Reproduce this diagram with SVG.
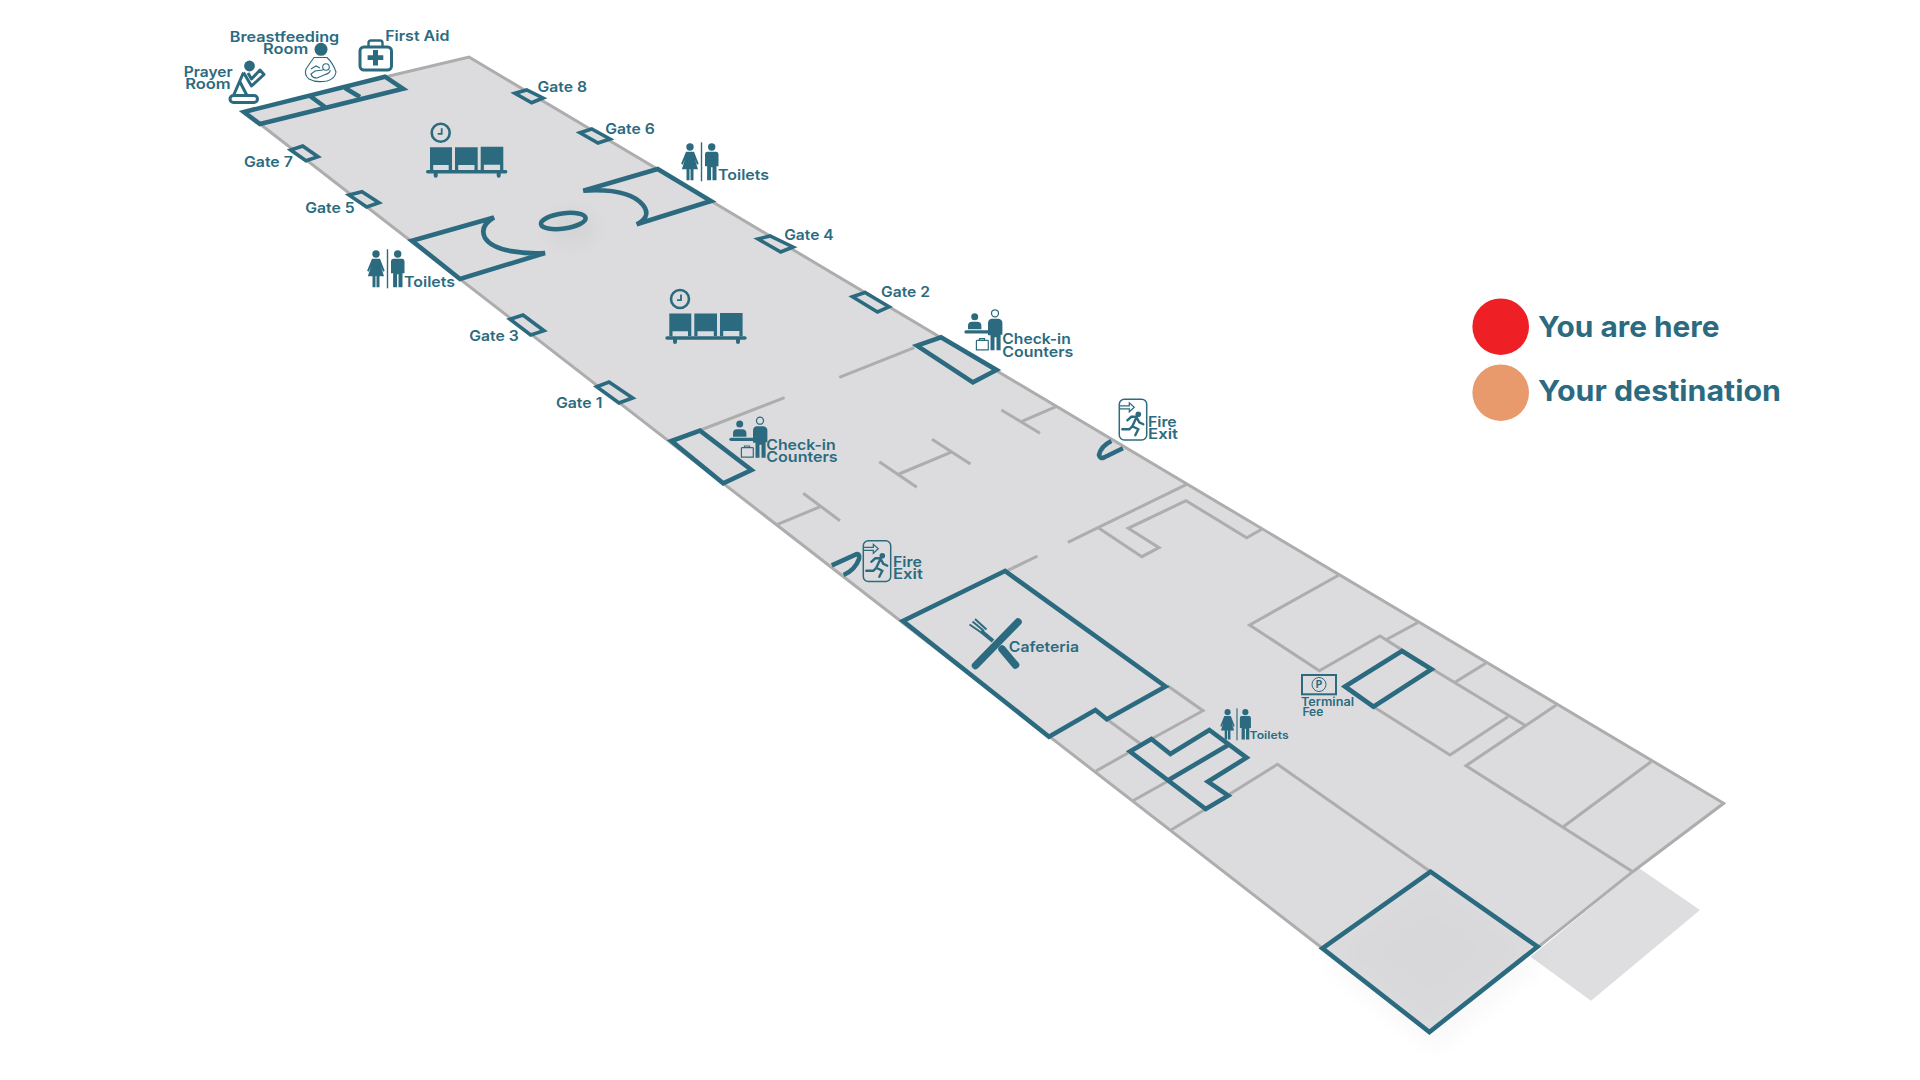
<svg xmlns="http://www.w3.org/2000/svg" xmlns:xlink="http://www.w3.org/1999/xlink" width="1920" height="1080" viewBox="0 0 1920 1080">
<style>
.w{fill:none;stroke:#adadad;stroke-width:3;stroke-linejoin:miter}
.r{fill:none;stroke:#2c6b7f;stroke-width:4.6;stroke-linejoin:miter;stroke-miterlimit:12}
.c{stroke-miterlimit:3}
.g{fill:#dcdcdf;stroke:#2c6b7f;stroke-width:3.6;stroke-miterlimit:3}
.i{fill:#2c6b7f}
.o{fill:none;stroke:#2c6b7f}
.t{font-family:"Inter","Open Sans","Liberation Sans",sans-serif;font-weight:600;fill:#2c6b7f;font-size:14.5px}
.l{font-weight:700;font-size:29px}
.s{font-size:11.5px}
</style>
<defs>
<filter id="b" x="-50%" y="-50%" width="200%" height="200%"><feGaussianBlur stdDeviation="11"/></filter>
<g id="wait">
<circle class="o" stroke-width="2.6" cx="0" cy="0" r="9"/>
<path class="o" stroke-width="1.8" d="M1,-4.5V1.2H-3"/>
<path class="i" d="M-10.7,14.6H11.3V37.3H8V32.3H-7.5V37.3H-10.7ZM14.3,14.6H37V37.3H33.8V32.3H17.5V37.3H14.3ZM40,14H62.6V37.3H59.4V32H43.2V37.3H40Z"/>
<path class="i" d="M-13,37.3H65a1.7,1.7 0 0 1 0,3.4H60V43a2,2 0 0 1 -4,0V40.7H-3V43a2,2 0 0 1 -4,0V40.7H-13a1.7,1.7 0 0 1 0,-3.4Z"/>
</g>
<g id="wc">
<circle class="i" cx="-11.5" cy="4.7" r="3.7"/>
<path class="i" d="M-15.5,9.5H-7.5L-2.8,21.5L-4.4,22.5L-6.5,17.5L-3.5,27H-8V38H-11V27H-12V38H-15V27H-19.6L-16.7,17.5L-18.8,22.5L-20.4,21.5Z"/>
<rect class="i" x="-.7" y="0" width="1.4" height="39"/>
<circle class="i" cx="10.2" cy="4.7" r="3.7"/>
<path class="i" d="M5.6,9.5H14.8Q17,9.5 17,12V24H15V38H11V25H9.6V38H5.6V24H3.5V12Q3.5,9.5 5.6,9.5Z"/>
</g>
<g id="chk">
<circle class="o" stroke-width="1.3" cx="0" cy="0" r="3.5"/>
<path class="i" d="M-3.5,5.5H3.5Q7.4,6 7.4,10V21.5H5.6V37H1.5V24H-.5V37H-4.5V22H-7V10Q-7,6 -3.5,5.5Z"/>
<circle class="i" cx="-20.3" cy="3.4" r="3.5"/>
<path class="i" d="M-27,16V12.5Q-27,8.5 -23,8.5H-18Q-13.6,8.5 -13.6,12.5V16Z"/>
<path class="i" d="M-29,17H-7V20.3H-29a1.6,1.6 0 0 1 0,-3.3Z"/>
<path class="o" stroke-width="1.2" d="M-18,27H-7.5a.8,.8 0 0 1 .8,.8V36.5H-18.6V27.8a.8,.8 0 0 1 .6,-.8ZM-15.5,27V25.3H-10.5V27"/>
</g>
<g id="fire">
<path class="o" stroke-width="1.5" d="M0,5a5,5 0 0 1 5,-5H22.4a5,5 0 0 1 5,5V35.7a5,5 0 0 1 -5,5H5a5,5 0 0 1 -5,-5Z"/>
<path class="o" stroke-width="1.2" d="M0,6.5H10V3.5L15,8L10,12.5V9.5H0"/>
<circle class="i" cx="19" cy="15" r="2.8"/>
<path class="o" stroke-width="2.4" stroke-linecap="round" d="M17,18.5L13,27M8,21L12,17.5H17L20,23L24,25M13,27L19,30L16,36M13,27L10,30H3"/>
</g>
</defs>
<rect width="1920" height="1080" fill="#fff"/>
<g id="floor">
<path fill="#dedee0" d="M1638.8,868L1700,910L1591,1000.7L1530.6,956.7Z"/>
<path d="M1430,890L1545,962L1435,1052L1325,965Z" fill="#000" opacity=".025" filter="url(#b)"/>
<path fill="#dcdcdf" d="M385,77L469,57L1723.7,803.3L1632.7,871.7L1538.8,946.7L1429.4,1033.3L1322.4,948.3L260,124L242,111Z"/>
<ellipse cx="572" cy="228" rx="24" ry="16" fill="#000" opacity=".035" filter="url(#b)"/>
<path d="M1430,878L1528,948L1430,1026L1335,950Z" fill="#000" opacity=".012" filter="url(#b)"/>
</g>
<g id="walls">
<path class="w" d="M385,77L469,57L1723.7,803.3L1632.7,871.7L1538.8,946.7"/>
<path class="w" d="M260,124L1322.4,948.3"/>
<path class="w" d="M839.3,377.3L914.3,347.7M700.7,430L784.6,397.7"/>
<path class="w" d="M1001.4,410L1040,433.3M1021.4,421.7L1056,406.7"/>
<path class="w" d="M879.3,461.7L916.8,487.3M899,474L950.7,452.3M932,439.3L970.4,464"/>
<path class="w" d="M803.2,493.3L840,520.7M777.5,524.3L820.4,506.7"/>
<path class="w" d="M1186.7,484.3L1067.9,542.3M1099,528.3L1141.8,556.7L1159,547.7L1128.2,528.3L1186,500.7L1246.7,537.7L1261.7,529.3"/>
<path class="w" d="M1005.4,571.7L1037.5,556"/>
<path class="w" d="M1167.5,685.7L1203,710.7L1151.4,739M1106.8,719.3L1140.7,744M1096,771L1128,753M1132.9,800.7L1168.6,780.7M1171,830L1205.7,809"/>
<path class="w" d="M1228.2,795L1277.5,764.3L1430.6,871.7"/>
<path class="w" d="M1339,575L1249.6,625L1319.3,670.7L1380,636L1432.7,669.3M1417.5,622.7L1387,639.3"/>
<path class="w" d="M1373.5,706.7L1450,755L1508,716.7M1432.7,669.3L1524.5,725M1485.7,663.3L1455,682.3M1556.3,705L1466,765.7L1632.7,871.7M1651,761.7L1563.3,826.7"/>
</g>
<g id="rooms">
<path class="r" d="M244,112L385,76.7L403,88.7L260,124ZM310,96L325,107M345,88L360,97"/>
<path class="r c" d="M412,240.7L494,217.5Q479,226 485,238C494,252 525,254 545,253L460,279Z"/>
<path class="r c" d="M657.7,169L583.3,190.7C610,189 633,193 643,205C650,214 645,220 636.7,224.3L711,201Z"/>
<ellipse class="r" cx="563.3" cy="221" rx="22.5" ry="7.6" transform="rotate(-8 563.3 221)"/>
<path class="r" d="M917,345.7L941,337.3L996.5,370L972.9,382.3Z"/>
<path class="r" d="M671.5,441L700,430.7L751.5,470L723.2,483.3Z"/>
<path class="r" d="M1111.4,441Q1101,446 1099,455Q1100,459 1104,457.5L1122.9,448.3"/>
<path class="r" d="M831.8,565.3L856,554.3Q860,553 859,559Q855,570 843.6,575"/>
<path class="r" d="M1005,571L903,621L1049,736.7L1095.4,710L1106.8,719.3L1165.5,686.5Z"/>
<path class="r" d="M1130,751.5L1151.4,739L1170.4,754L1209.3,730L1246.5,757.7L1207.9,781.7L1228.2,795.7L1205.7,809ZM1228.2,745L1168.6,780"/>
<path class="r" d="M1345,686.5L1402,651L1431.5,669.3L1373.5,706.7Z"/>
<path class="r" d="M1430.6,871.7L1322.4,948.3L1429.4,1032L1537.5,946.7Z"/>
</g>
<g id="gates">
<path class="g" d="M515,93.3L526.7,90L543,98L531.7,102.7Z"/>
<path class="g" d="M580,132.7L591.7,129L610,139L598,143Z"/>
<path class="g" d="M290.7,150L302.7,146L318,156.7L306,160.7Z"/>
<path class="g" d="M349,195L362,191.7L379,202.7L366.7,207Z"/>
<path class="g" d="M510,319.3L523,315L544,330.7L530.7,335Z"/>
<path class="g" d="M596.7,386.7L609,382L632.7,398L619,403Z"/>
<path class="g" d="M758,239L770,236L793,247L780.7,252Z"/>
<path class="g" d="M852.5,296.8L865,292.5L889,306.8L877.5,312Z"/>
<text class="t" x="537.5" y="92.3" textLength="49.5" lengthAdjust="spacingAndGlyphs">Gate 8</text>
<text class="t" x="605.2" y="133.5" textLength="49.5" lengthAdjust="spacingAndGlyphs">Gate 6</text>
<text class="t" x="243.9" y="166.7" textLength="49" lengthAdjust="spacingAndGlyphs">Gate 7</text>
<text class="t" x="305.2" y="213.3" textLength="49.5" lengthAdjust="spacingAndGlyphs">Gate 5</text>
<text class="t" x="469.2" y="340.7" textLength="49.5" lengthAdjust="spacingAndGlyphs">Gate 3</text>
<text class="t" x="555.9" y="407.7" textLength="46.5" lengthAdjust="spacingAndGlyphs">Gate 1</text>
<text class="t" x="784.2" y="240" textLength="49.5" lengthAdjust="spacingAndGlyphs">Gate 4</text>
<text class="t" x="881" y="296.7" textLength="49" lengthAdjust="spacingAndGlyphs">Gate 2</text>
</g>
<g id="prayer-room">
<circle class="i" cx="249.5" cy="66" r="5.4"/>
<path class="o" stroke-width="3" stroke-linejoin="round" d="M243.5,72.5L233.5,95.5M243.5,72.5L251.5,86L264,74.5L260,70L251.5,79L248,73M240,82L247,95.5M230,99a3.5,3.5 0 0 1 3.5,-3.5H254a3.5,3.5 0 0 1 0,7H233.5a3.5,3.5 0 0 1 -3.5,-3.5Z"/>
<text class="t" x="183.8" y="76.7" textLength="48.9" lengthAdjust="spacingAndGlyphs">Prayer</text>
<text class="t" x="185.2" y="89" textLength="45.5" lengthAdjust="spacingAndGlyphs">Room</text>
</g>
<g id="breastfeeding-room">
<circle class="i" cx="321" cy="49.3" r="6.5"/>
<path class="o" stroke-width="1.1" d="M314,57.5H327Q333,63 336,72Q335,79 327,81Q316,83 309,79Q304,75 306,69Q310,63 314,57.5Z"/>
<circle class="o" stroke-width="1.1" cx="326" cy="67" r="3.3"/>
<path class="o" stroke-width="1.1" d="M323,70L315,71L311,74Q312,78 317,78L324,75Q331,73 330,70M311,69L316,66L320,68"/>
<text class="t" x="229.8" y="41.7" textLength="109.4" lengthAdjust="spacingAndGlyphs">Breastfeeding</text>
<text class="t" x="263" y="54.3" textLength="45.3" lengthAdjust="spacingAndGlyphs">Room</text>
</g>
<g id="first-aid">
<rect class="o" stroke-width="3" x="360" y="47" width="31.5" height="23" rx="4"/>
<path class="o" stroke-width="2.4" d="M368.5,47V43a2.5,2.5 0 0 1 2.5,-2.5H380a2.5,2.5 0 0 1 2.5,2.5V47"/>
<path class="i" d="M373,50H378V55.3H383.3V60H378V65.5H373V60H367.6V55.3H373Z"/>
<text class="t" x="385.2" y="40.7" textLength="64.2" lengthAdjust="spacingAndGlyphs">First Aid</text>
</g>
<g id="waiting-1"><use href="#wait" xlink:href="#wait" x="440.7" y="132.7"/></g>
<g id="waiting-2"><use href="#wait" xlink:href="#wait" x="680" y="299"/></g>
<g id="toilets-left">
<use href="#wc" xlink:href="#wc" x="387.5" y="249.3"/>
<text class="t" x="404" y="287" textLength="51" lengthAdjust="spacingAndGlyphs">Toilets</text>
</g>
<g id="toilets-right">
<use href="#wc" xlink:href="#wc" x="701.5" y="142.3"/>
<text class="t" x="718" y="180" textLength="51" lengthAdjust="spacingAndGlyphs">Toilets</text>
</g>
<g id="toilets-small">
<use href="#wc" xlink:href="#wc" transform="translate(1237 708.3) scale(.82)"/>
<text class="t" style="font-size:11px" x="1249.6" y="739" textLength="39" lengthAdjust="spacingAndGlyphs">Toilets</text>
</g>
<g id="checkin-top">
<use href="#chk" xlink:href="#chk" x="995" y="313.3"/>
<text class="t" x="1002.3" y="344" textLength="68.5" lengthAdjust="spacingAndGlyphs">Check-in</text>
<text class="t" x="1002.3" y="356.7" textLength="71" lengthAdjust="spacingAndGlyphs">Counters</text>
</g>
<g id="checkin-bottom">
<use href="#chk" xlink:href="#chk" x="760" y="420.7"/>
<text class="t" x="766.2" y="450" textLength="69.5" lengthAdjust="spacingAndGlyphs">Check-in</text>
<text class="t" x="766.2" y="462" textLength="71.5" lengthAdjust="spacingAndGlyphs">Counters</text>
</g>
<g id="fire-exit-top">
<use href="#fire" xlink:href="#fire" x="1119.3" y="399.3"/>
<text class="t" x="1148" y="427.3" textLength="28.7" lengthAdjust="spacingAndGlyphs">Fire</text>
<text class="t" x="1148" y="439.3" textLength="30" lengthAdjust="spacingAndGlyphs">Exit</text>
</g>
<g id="fire-exit-bottom">
<use href="#fire" xlink:href="#fire" x="863.3" y="540.8"/>
<text class="t" x="892.9" y="566.7" textLength="29" lengthAdjust="spacingAndGlyphs">Fire</text>
<text class="t" x="892.9" y="579" textLength="30" lengthAdjust="spacingAndGlyphs">Exit</text>
</g>
<g id="cafeteria">
<path class="o" stroke-width="7.5" stroke-linecap="round" d="M1018,622L975.5,665.5"/>
<path class="o" stroke-width="7.5" stroke-linecap="round" d="M1015.5,665L1002,649"/>
<path class="o" stroke-width="4" d="M993,641L981,631"/>
<path class="o" stroke-width="2" d="M982,633L969.5,624.5M984,631L972.5,621.5M986.5,629.5L975,619"/>
<text class="t" x="1008.8" y="651.7" textLength="70.2" lengthAdjust="spacingAndGlyphs">Cafeteria</text>
</g>
<g id="terminal-fee">
<rect class="o" stroke-width="2" x="1302" y="675" width="34" height="19.3"/>
<circle class="o" stroke-width="1" cx="1319" cy="684.5" r="7"/>
<text class="t" style="font-size:10px;font-weight:700" x="1319" y="688" text-anchor="middle">P</text>
<text class="t s" x="1301" y="706" textLength="53" lengthAdjust="spacingAndGlyphs">Terminal</text>
<text class="t s" x="1302.4" y="715.7" textLength="21" lengthAdjust="spacingAndGlyphs">Fee</text>
</g>
<g id="legend">
<circle cx="1500.7" cy="326.7" r="28.3" fill="#ef1f26"/>
<circle cx="1500.7" cy="392.7" r="28.3" fill="#e99a6c"/>
<text class="t l" x="1538" y="336.7" textLength="181.5" lengthAdjust="spacingAndGlyphs">You are here</text>
<text class="t l" x="1538" y="401.3" textLength="243" lengthAdjust="spacingAndGlyphs">Your destination</text>
</g>
</svg>
